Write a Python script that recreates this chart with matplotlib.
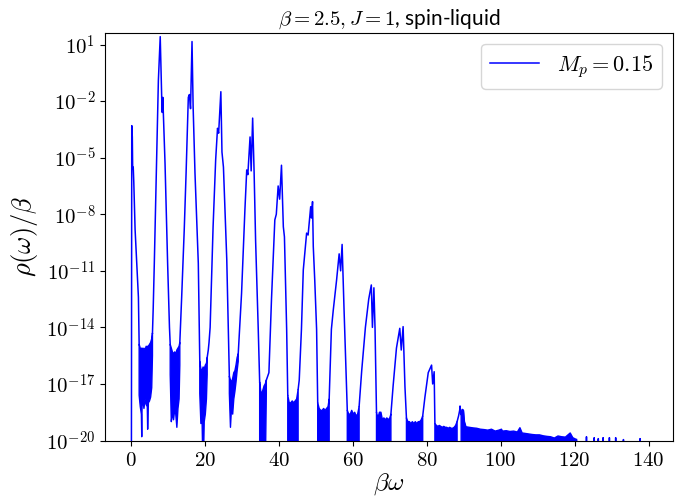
import numpy as np
import matplotlib
matplotlib.use("Agg")
import matplotlib.pyplot as plt
from matplotlib.ticker import FixedLocator, FuncFormatter, NullLocator

plt.rcParams['mathtext.fontset'] = 'cm'
plt.rcParams['font.family'] = ['DejaVu Sans']

# main curve: beta*omega and log10(rho/beta)
# (nan = the curve continues inside a noise band, drawn below)
omega = [0.1, 0.2, 0.35, 0.45, 0.6, 0.75, 1.1, 1.6, 2.0, 2.2, np.nan,
         5.8, 6.0, 6.3, 6.9, 7.4, 7.9, 8.3, 8.45, 8.6, 9.2, 9.9, 10.4, 10.6, np.nan,
         13.2, 13.7, 14.4, 14.9, 15.5, 15.8, 16.1, 16.5, 16.8, 17.3, 18.2, 18.6, np.nan,
         20.6, 20.9, 21.1, 21.4, 22.2, 22.9, 23.4, 23.7, 24.3, 24.6, 25.0, 25.9, 26.6, np.nan,
         29.0, 29.9, 30.8, 31.3, 31.6, 32.2, 32.5, 32.9, 33.3, 33.7, 34.4, 34.8, np.nan,
         36.6, 37.3, 38.0, 38.9, 39.3, 39.8, 40.2, 40.7, 41.2, 41.5, 42.1, 42.4, np.nan,
         45.2, 45.5, 46.1, 46.6, 47.5, 47.9, 48.6, 48.8, 49.1, 49.3, 49.7, 50.2, 50.5, np.nan,
         53.6, 54.2, 54.7, 55.6, 56.3, 56.7, 57.1, 57.6, 58.1, 58.5, np.nan,
         61.7, 62.4, 63.4, 64.3, 65.0, 65.3, 65.7, 66.0, 66.4, np.nan,
         70.3, 70.9, 71.8, 72.7, 73.1, 73.6, 74.1, 74.5, np.nan,
         78.9, 79.5, 80.4, 81.3, 81.6, 82.0, 82.2, np.nan,
         88.2, 88.6, 88.9, 89.0, 89.2, 89.4, 89.6, 89.9, 90.1, 90.4, np.nan,
         120.5, 121.0, 123.1, 123.2, 123.3, 125.2, 125.3, 125.4, 126.3, 126.4, 126.5,
         127.6, 127.7, 127.8, 129.3, 129.4, 129.5, 131.0, 131.1, 131.2,
         133.1, 133.2, 133.3, 137.6, 137.7, 137.8, 140.6]
log_rho = [-22, -3.3, -3.9, -5.6, -5.5, -6.3, -8.8, -10.8, -12.4, -14.9, np.nan,
           -14.3, -13.0, -10.6, -5.3, -0.9, 1.42, -1.8, -2.6, -1.8, -5.3, -10.6, -14.0, -14.9, np.nan,
           -14.8, -12.4, -8.8, -5.8, -1.8, -1.65, -2.4, 1.16, -2.3, -5.8, -10.6, -15.8, np.nan,
           -15.6, -15.2, -14.8, -14.0, -8.66, -5.1, -3.44, -3.7, -1.5, -4.7, -5.5, -10.4, -16.6, np.nan,
           -15.4, -12.2, -7.8, -5.65, -5.9, -3.9, -5.7, -2.9, -5.8, -9.4, -14.0, -16.9, np.nan,
           -16.8, -16.4, -12.5, -8.3, -8.0, -6.5, -7.2, -5.4, -8.66, -9.2, -14.1, -17.6, np.nan,
           -17.3, -16.8, -14.1, -10.95, -9.0, -9.1, -7.6, -8.2, -7.33, -9.7, -11.5, -14.1, -18.0, np.nan,
           -17.8, -14.1, -13.1, -11.5, -10.1, -11.0, -9.6, -12.9, -16.0, -18.4, np.nan,
           -18.2, -16.3, -14.0, -12.5, -11.75, -14.0, -11.9, -14.0, -18.5, np.nan,
           -18.6, -17.1, -15.1, -14.05, -15.2, -13.96, -17.15, -18.8, np.nan,
           -18.7, -17.7, -16.4, -16.0, -17.0, -16.35, -19.1, np.nan,
           -19.0, -18.7, -18.4, -18.17, -18.6, -18.65, -18.35, -18.4, -19.0, -19.25, np.nan,
           -19.95, -21, -21, -19.8, -21, -21, -19.85, -21, -21, -19.9, -21,
           -21, -19.85, -21, -21, -19.85, -21, -21, -19.85, -21,
           -21, -19.95, -21, -21, -19.9, -21, -22]

# noisy floor between peaks: upper and lower edge (nan separates the bands)
band_x = [2.2, 2.5, 2.8, 2.9, 3.0, 3.2, 3.5, 3.8, 4.1, 4.4, 4.5, 4.7, 5.0, 5.3, 5.6, 5.8, np.nan,
          10.6, 10.9, 11.2, 11.5, 11.8, 12.1, 12.4, 12.7, 13.0, 13.2, np.nan,
          18.6, 18.9, 19.2, 19.5, 19.8, 20.1, 20.4, 20.6, np.nan,
          26.6, 26.9, 27.2, 27.5, 27.8, 28.1, 28.4, 28.7, 29.0, np.nan,
          34.8, 35.1, 35.4, 35.7, 36.0, 36.3, 36.6, np.nan,
          42.4, 42.8, 43.2, 43.6, 44.0, 44.4, 44.8, 45.2, np.nan,
          50.5, 50.9, 51.3, 51.7, 52.1, 52.5, 52.9, 53.3, 53.6, np.nan,
          58.5, 58.9, 59.3, 59.7, 60.1, 60.5, 60.9, 61.3, 61.7, np.nan,
          66.4, 66.8, 67.2, 67.6, 68.0, 68.4, 68.8, 69.2, 69.6, 70.0, 70.3, np.nan,
          74.5, 74.9, 75.3, 75.7, 76.1, 76.5, 76.9, 77.3, 77.7, 78.1, 78.5, 78.9, np.nan,
          82.2, 82.6, 83.0, 83.4, 83.8, 84.2, 84.6, 85.0, 85.4, 85.8, 86.2, 86.6, 87.0,
          87.4, 87.8, 88.2, np.nan,
          89.3, 89.6, 89.9, 90.2, 90.6, 91.5, 92.5, 93.5, 94.5, 95.5, 96.5, 97.5, 98.5,
          99.5, 100.2, 100.5, 101.5, 102.5, 103.5, 104.5, 105.2, 105.8, 106.5, 107.5,
          108.5, 109.5, 110.5, 111.5, 112.5, 113.5, 114.5, 115.5, 116.5, 117.5, 118.8,
          119.5, 120.5]
band_top = [-14.9, -15.1, -15.2, -15.1, -15.1, -15.2, -15.1, -15.2, -15.0, -15.1, -15.0, -15.0, -14.9, -14.8, -14.6, -14.3, np.nan,
            -14.9, -15.1, -15.3, -15.4, -15.3, -15.4, -15.2, -15.1, -15.0, -14.8, np.nan,
            -15.8, -16.2, -16.3, -16.1, -16.2, -16.0, -15.9, -15.6, np.nan,
            -16.6, -16.8, -16.9, -16.7, -16.4, -16.3, -16.0, -15.6, -15.4, np.nan,
            -16.9, -17.4, -17.5, -17.3, -17.1, -17.0, -16.8, np.nan,
            -17.6, -18.0, -18.0, -17.9, -18.0, -17.9, -17.8, -17.3, np.nan,
            -18.0, -18.3, -18.4, -18.4, -18.3, -18.4, -18.3, -18.2, -17.8, np.nan,
            -18.4, -18.6, -18.6, -18.4, -18.6, -18.5, -18.7, -18.6, -18.2, np.nan,
            -18.5, -18.8, -18.5, -18.5, -18.9, -18.8, -18.9, -18.8, -18.9, -18.8, -18.6, np.nan,
            -18.8, -19.0, -19.0, -19.1, -19.0, -19.1, -19.0, -19.1, -19.0, -19.0, -18.9, -18.7, np.nan,
            -19.1, -19.2, -19.25, -19.2, -19.25, -19.3, -19.25, -19.3, -19.3, -19.35, -19.3, -19.35, -19.35,
            -19.3, -19.2, -19.0, np.nan,
            -18.6, -18.4, -18.4, -19.0, -19.27, -19.3, -19.33, -19.35, -19.4, -19.42, -19.45, -19.4, -19.5,
            -19.45, -19.4, -19.5, -19.48, -19.52, -19.5, -19.55, -19.32, -19.6, -19.62, -19.65,
            -19.68, -19.7, -19.7, -19.75, -19.78, -19.8, -19.87, -19.76, -19.8, -19.82, -19.6,
            -19.85, -19.95]
band_bot = [-17.6, -18.2, -18.6, -19.8, -18.0, -17.9, -18.3, -17.8, -18.1, -18.2, -19.4, -18.0, -17.9, -17.7, -17.2, -15.5, np.nan,
            -16.5, -19.0, -18.5, -18.9, -18.4, -18.6, -19.3, -18.3, -17.8, -16.0, np.nan,
            -17.5, -19.1, -18.7, -22, -19.0, -18.6, -17.8, -16.5, np.nan,
            -17.5, -19.3, -18.2, -18.6, -17.8, -17.4, -16.9, -16.3, -15.8, np.nan,
            -22, -22, -22, -22, -22, -22, -17.5, np.nan,
            -22, -22, -22, -22, -22, -22, -22, -22, np.nan,
            -22, -22, -22, -22, -22, -22, -22, -22, -22, np.nan,
            -22, -22, -22, -22, -22, -22, -22, -22, -22, np.nan,
            -22, -22, -22, -22, -22, -22, -22, -22, -22, -22, -22, np.nan,
            -22, -22, -22, -22, -22, -22, -22, -22, -22, -22, -22, -22, np.nan,
            -22, -22, -22, -22, -22, -22, -22, -22, -22, -22, -22, -22, -22,
            -22, -22, -22, np.nan,
            -22, -22, -22, -22, -22, -22, -22, -22, -22, -22, -22, -22, -22,
            -22, -22, -22, -22, -22, -22, -22, -22, -22, -22, -22,
            -22, -22, -22, -22, -22, -22, -22, -22, -22, -22, -22,
            -22, -22]

x_ticks = [0, 20, 40, 60, 80, 100, 120, 140]
y_exps = [-20, -17, -14, -11, -8, -5, -2, 1]

fig = plt.figure(figsize=(6.75, 4.99), dpi=100)
ax = fig.add_axes([0.1556, 0.1172, 0.8414, 0.8173])

ax.plot(omega, 10.0 ** np.array(log_rho), color='#0000ff', lw=1.1, label=r'$M_p = 0.15$')
ax.fill_between(band_x, 10.0 ** np.array(band_top), 10.0 ** np.array(band_bot),
                color='#0000ff', lw=1.0)
ax.set_yscale('log')
ax.set_xlim(-7.03, 146.6)
ax.set_ylim(1e-20, 10 ** 1.63)

ax.xaxis.set_major_locator(FixedLocator(x_ticks))
ax.xaxis.set_major_formatter(FuncFormatter(lambda v, p: f'${v:.0f}$'))
ax.yaxis.set_major_locator(FixedLocator([10.0 ** e for e in y_exps]))
ax.yaxis.set_major_formatter(FuncFormatter(lambda v, p: f'$10^{{{int(round(np.log10(v)))}}}$'))
ax.yaxis.set_minor_locator(NullLocator())
ax.xaxis.set_minor_locator(NullLocator())
ax.tick_params(labelsize=15)

ax.set_xlabel(r'$\beta\omega$', fontsize=18, labelpad=1)
ax.set_ylabel(r'$\rho(\omega)/\beta$', fontsize=19)
ax.set_title(r'$\beta = 2.5, J = 1$, spin-liquid', fontsize=15, family='Lato')
ax.legend(loc='upper right', fontsize=16, handlelength=2.2)

fig.savefig('out.png', dpi=100)
